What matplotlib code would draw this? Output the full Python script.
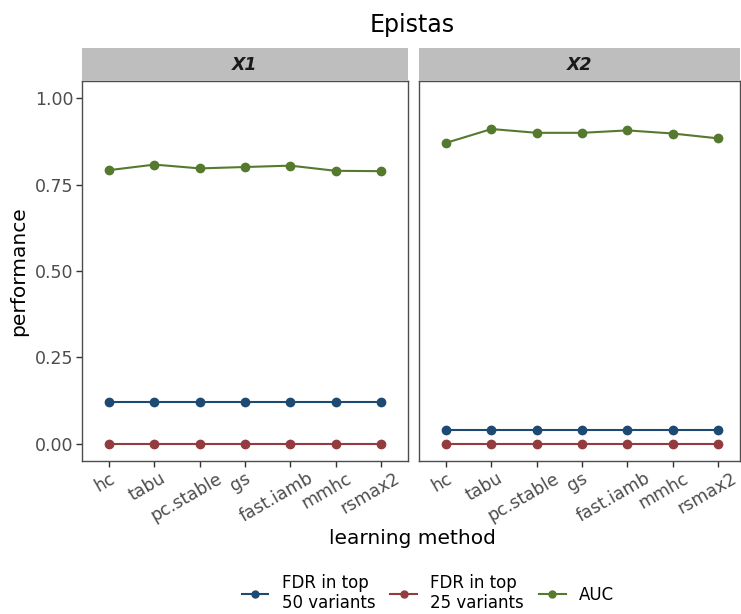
import matplotlib
matplotlib.use("Agg")
import matplotlib.pyplot as plt
import matplotlib.transforms as mtransforms
from matplotlib.lines import Line2D

methods = ["hc", "tabu", "pc.stable", "gs", "fast.iamb", "mmhc", "rsmax2"]
panels = ["X1", "X2"]

auc_x1 = [0.792, 0.808, 0.797, 0.801, 0.805, 0.790, 0.789]
auc_x2 = [0.871, 0.911, 0.900, 0.900, 0.907, 0.898, 0.884]
fdr50_x1 = [0.12] * 7
fdr50_x2 = [0.04] * 7
fdr25_x1 = [0.0] * 7
fdr25_x2 = [0.0] * 7

series_labels = ["FDR in top\n50 variants", "FDR in top\n25 variants", "AUC"]
colors = ["#1d4a73", "#943b40", "#557a2e"]

data = {
    "X1": [fdr50_x1, fdr25_x1, auc_x1],
    "X2": [fdr50_x2, fdr25_x2, auc_x2],
}

W, H = 741, 614
fig = plt.figure(figsize=(W / 100, H / 100), dpi=100)

# panel boxes in pixels: left, right, top (incl strip), bottom
boxes = [(82, 408), (419, 740)]
p_top, p_bot, strip_top = 81, 461, 48
unit = 45.3  # px per category

x = list(range(1, len(methods) + 1))
axes = []
for i, (name, (l, r)) in enumerate(zip(panels, boxes)):
    ax = fig.add_axes([l / W, 1 - p_bot / H, (r - l) / W, (p_bot - p_top) / H])
    axes.append(ax)
    for vals, c in zip(data[name], colors):
        ax.plot(x, vals, color=c, lw=1.5, marker="o", ms=6, zorder=3)
    ax.set_xlim(0.4, 0.4 + (r - l) / unit)
    ax.set_ylim(-0.05, 1.05)
    ax.set_xticks(x)
    ax.set_xticklabels(methods, rotation=30, ha="center", fontsize=12.5, color="#4d4d4d")
    ax.set_yticks([0, 0.25, 0.5, 0.75, 1.0])
    if i == 0:
        ax.set_yticklabels(["0.00", "0.25", "0.50", "0.75", "1.00"], fontsize=12.5, color="#4d4d4d")
        ax.set_ylabel("performance", fontsize=14.5, labelpad=5)
    else:
        ax.tick_params(axis="y", left=False, labelleft=False)
    ax.tick_params(axis="both", length=4, color="#333333", width=1, pad=2)
    for s in ax.spines.values():
        s.set_color("#4d4d4d")
        s.set_linewidth(1)
    # strip
    sax = fig.add_axes([l / W, 1 - p_top / H, (r - l) / W, (p_top - strip_top) / H])
    sax.set_facecolor("#bebebe")
    sax.set_xticks([])
    sax.set_yticks([])
    for s in sax.spines.values():
        s.set_visible(False)
    sax.text(0.5, 0.5, name, ha="center", va="center", fontsize=12.5,
             fontweight="bold", fontstyle="italic", color="#1a1a1a", transform=sax.transAxes)

fig.text(412 / W, 1 - 25 / H, "Epistas", ha="center", va="center", fontsize=17)
fig.text(412 / W, 1 - 538 / H, "learning method", ha="center", va="center", fontsize=14.5)

handles = [Line2D([0], [0], color=c, lw=1.5, marker="o", ms=5) for c in colors]
fig.legend(handles, series_labels, loc="center", bbox_to_anchor=(428 / W, 1 - 593 / H),
           ncol=3, frameon=False, fontsize=12, handlelength=1.6, columnspacing=0.9,
           handletextpad=0.8, labelspacing=0.2, borderpad=0.1)

# shift rotated x labels left a bit, longer labels more (like hjust ~0.7 in ggplot)
fig.canvas.draw()
renderer = fig.canvas.get_renderer()
for ax in axes:
    for lbl in ax.get_xticklabels():
        w = lbl.get_window_extent(renderer).width
        dx = -0.17 * w
        lbl.set_transform(lbl.get_transform() + mtransforms.ScaledTranslation(dx / 100, 0, fig.dpi_scale_trans))

fig.savefig("out.png", dpi=100)
